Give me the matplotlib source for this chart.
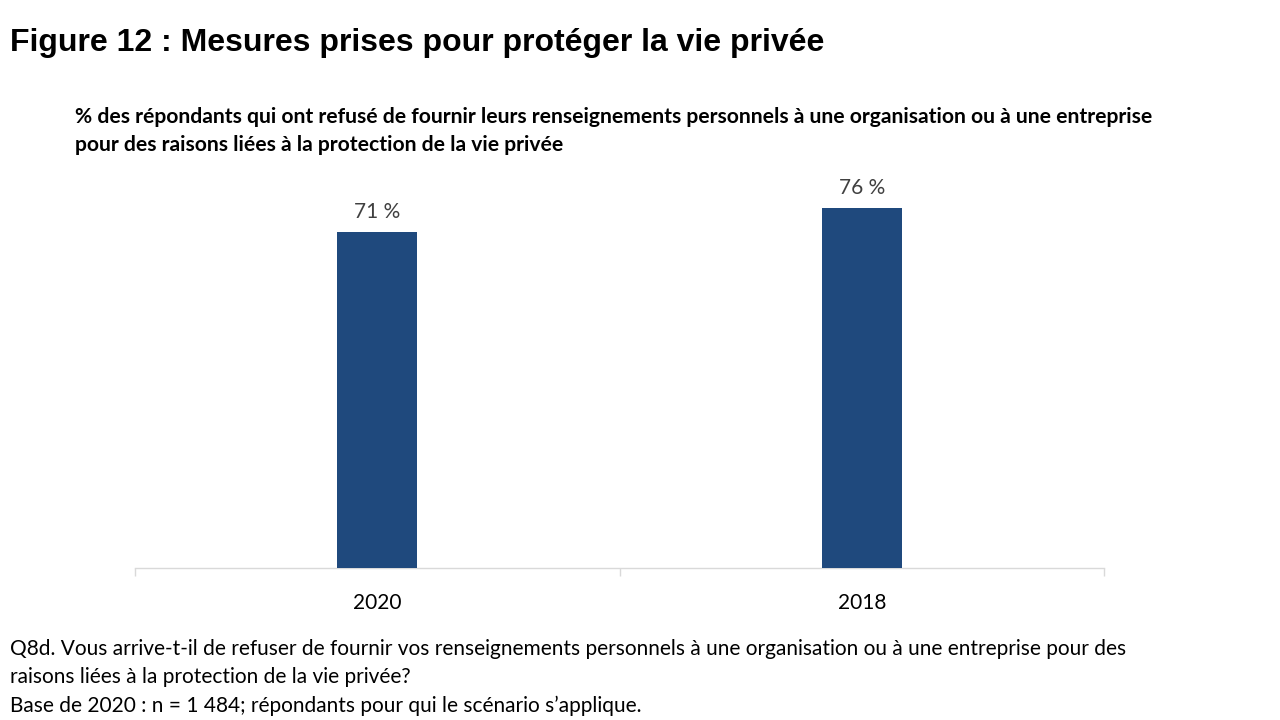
import matplotlib
matplotlib.use("Agg")
import matplotlib.pyplot as plt

categories = ["2020", "2018"]
values = [71, 76]
value_labels = ["71 %", "76 %"]

title = "Figure 12 : Mesures prises pour protéger la vie privée"
subtitle = ("% des répondants qui ont refusé de fournir leurs renseignements personnels à une organisation ou à une entreprise\n"
            "pour des raisons liées à la protection de la vie privée")
footer = ("Q8d. Vous arrive-t-il de refuser de fournir vos renseignements personnels à une organisation ou à une entreprise pour des\n"
          "raisons liées à la protection de la vie privée?\n"
          "Base de 2020 : n = 1 484; répondants pour qui le scénario s’applique.")

bar_color = "#1F497D"
body_font = ["Lato", "DejaVu Sans"]

fig = plt.figure(figsize=(12.8, 7.2), dpi=100)
ax = fig.add_axes([135/1280, 1-568/720, (1104-135)/1280, (568-189)/720])

x = list(range(len(categories)))
bars = ax.bar(x, values, width=0.165, color=bar_color, zorder=3)
ax.set_xlim(-0.5, len(categories)-0.5)
ax.set_ylim(0, 80)

for xi, v, lab in zip(x, values, value_labels):
    ax.annotate(lab, (xi, v), xytext=(0, 7), textcoords="offset points",
                ha="center", va="bottom", fontsize=15, color="#404040", family=body_font)

for s in ["top", "right", "left"]:
    ax.spines[s].set_visible(False)
ax.spines["bottom"].set_color("#D9D9D9")
ax.spines["bottom"].set_linewidth(1)
ax.set_yticks([])
ax.set_xticks([-0.5, 0.5, 1.5], minor=False)
ax.set_xticklabels([])
ax.tick_params(axis="x", which="major", length=6, color="#D9D9D9", width=1)
ax.set_xticks(x, minor=True)
ax.set_xticklabels(categories, minor=True, fontsize=15, family=body_font, color="black")
ax.tick_params(axis="x", which="minor", length=0, pad=18)

fig.text(10/1280, 1-43/720, title, fontsize=23, fontweight="bold",
         family=["Liberation Sans", "DejaVu Sans"], va="center", ha="left")
fig.text(75/1280, 1-107/720, subtitle, fontsize=15.2, fontweight="bold",
         family=body_font, va="top", ha="left", linespacing=1.5)
fig.text(10/1280, 1-639/720, footer, fontsize=15, family=body_font,
         va="top", ha="left", linespacing=1.5)

fig.savefig("out.png", dpi=100)
